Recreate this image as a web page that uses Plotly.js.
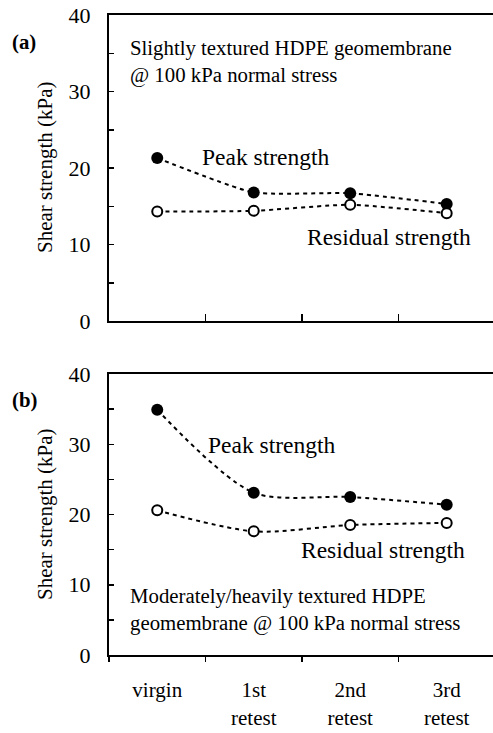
<!DOCTYPE html>
<html><head><meta charset="utf-8">
<script src="https://cdn.plot.ly/plotly-3.0.1.min.js"></script>
<style>html,body{margin:0;padding:0;background:#fff;font-family:'Liberation Serif',serif}</style>
</head><body>
<div id="chart" style="width:493px;height:733px"></div>
<script>
const categories = ['virgin', '1st<br>retest', '2nd<br>retest', '3rd<br>retest'];
const peakA = [21.3, 16.8, 16.7, 15.3];
const residualA = [14.3, 14.4, 15.2, 14.1];
const peakB = [34.9, 23.1, 22.5, 21.4];
const residualB = [20.6, 17.6, 18.5, 18.8];
const yTickVals = [0, 5, 10, 15, 20, 25, 30, 35, 40];
const yTickText = ['0', '', '10', '', '20', '', '30', '', '40'];
const yTitle = 'Shear strength (kPa)';

const W = 493, H = 733, L = 109, R = 0, T = 15, B = 78;
const pw = W - L - R, ph = H - T - B;
const px = x => (x - L) / pw;
const py = y => (H - B - y) / ph;
const FONT = 'Liberation Serif';

function lineTrace(y, xa, ya, filled, smooth) {
  return {
    x: categories, y: y, xaxis: xa, yaxis: ya, type: 'scatter', mode: 'lines+markers',
    line: {color: '#000', width: 2, dash: '4px,4px', shape: 'spline', smoothing: smooth},
    marker: filled ? {size: 12, color: '#000', line: {width: 0}} :
                     {size: 10, color: '#fff', line: {color: '#000', width: 2}},
    showlegend: false, hoverinfo: 'skip', cliponaxis: false
  };
}

const data = [
  lineTrace(peakA, 'x', 'y', true, 0.5),
  lineTrace(residualA, 'x', 'y', false, 0.5),
  lineTrace(peakB, 'x2', 'y2', true, 0.8),
  lineTrace(residualB, 'x2', 'y2', false, 0.8)
];

const xBase = {
  type: 'category', range: [-0.5, 3.48], tickson: 'boundaries',
  showline: true, linecolor: '#000', linewidth: 2, mirror: true,
  showgrid: false, zeroline: false, ticklen: 7, tickwidth: 1.5, tickcolor: '#000',
  tickfont: {family: FONT, size: 21, color: '#000'}
};
const yBase = {
  range: [0, 40], tickvals: yTickVals, ticktext: yTickText, ticks: 'inside', ticklen: 5,
  tickwidth: 1.5, tickcolor: '#000', ticklabelstandoff: 12,
  showline: true, linecolor: '#000', linewidth: 2, showgrid: false, zeroline: false,
  tickfont: {family: FONT, size: 22, color: '#000'}
};

const ann = (x, y, text, opts) => Object.assign({
  xref: 'paper', yref: 'paper', x: px(x), y: py(y), text: text, showarrow: false,
  xanchor: 'left', yanchor: 'middle', font: {family: FONT, size: 20.8, color: '#000'}
}, opts || {});
const big = {family: FONT, size: 23.5, color: '#000'};

const layout = {
  width: W, height: H, margin: {l: L, r: R, t: T, b: B},
  paper_bgcolor: '#fff', plot_bgcolor: '#fff', font: {family: FONT, size: 20, color: '#000'},
  xaxis: Object.assign({}, xBase, {anchor: 'y', ticks: 'inside', showticklabels: false, domain: [0, 1]}),
  yaxis: Object.assign({}, yBase, {anchor: 'x', domain: [py(321), 1]}),
  xaxis2: Object.assign({}, xBase, {anchor: 'y2', ticks: 'outside', ticklen: 5, ticklabelstandoff: 15, domain: [0, 1]}),
  yaxis2: Object.assign({}, yBase, {anchor: 'x2', domain: [0, py(374)]}),
  annotations: [
    ann(45, 168, yTitle, {xanchor: 'center', textangle: -90, font: {family: FONT, size: 21, color: '#000'}}),
    ann(45, 515, yTitle, {xanchor: 'center', textangle: -90, font: {family: FONT, size: 21, color: '#000'}}),
    ann(10, 42, '<b>(a)</b>'),
    ann(10, 400, '<b>(b)</b>'),
    ann(128, 61, 'Slightly textured HDPE geomembrane<br>@ 100 kPa normal stress', {align: 'left'}),
    ann(200, 157, 'Peak strength', {font: big}),
    ann(305, 237, 'Residual strength', {font: big}),
    ann(206, 445, 'Peak strength', {font: big}),
    ann(299, 550, 'Residual strength', {font: big}),
    ann(128, 609, 'Moderately/heavily textured HDPE<br>geomembrane @ 100 kPa normal stress', {align: 'left'})
  ]
};

const draw = () => Plotly.newPlot('chart', data, layout, {displayModeBar: false, staticPlot: true});
if (document.fonts && document.fonts.load) {
  Promise.all([document.fonts.load('20px "Liberation Serif"'), document.fonts.load('bold 20px "Liberation Serif"')])
    .then(draw, draw);
} else { draw(); }
</script>
</body></html>
